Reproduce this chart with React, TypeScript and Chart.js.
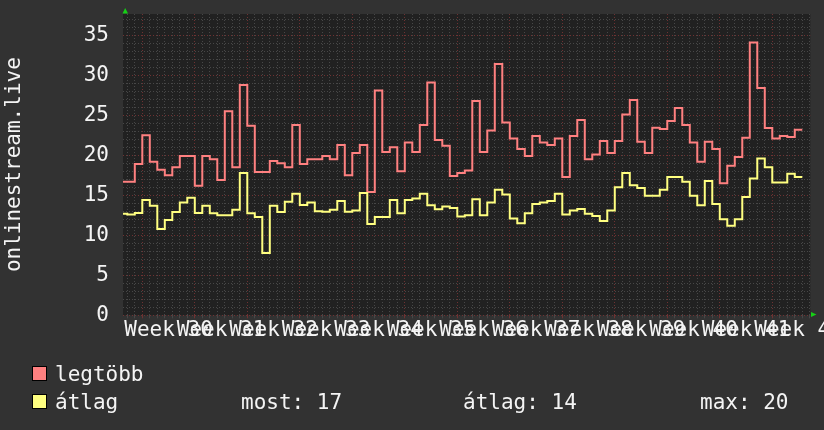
import React, { useEffect, useRef } from 'react';
import { Chart, registerables } from 'chart.js';

Chart.register(...registerables);

// ---- data ----
const weekLabels = [
  'Week 30', 'Week 31', 'Week 32', 'Week 33', 'Week 34', 'Week 35', 'Week 36',
  'Week 37', 'Week 38', 'Week 39', 'Week 40', 'Week 41', 'Week 42',
];

// daily maximum ("legtöbb")
const legtobb = [
  16.7, 16.7, 18.9, 22.5, 19.2, 18.2, 17.5, 18.5, 19.9, 19.9,
  16.2, 19.9, 19.5, 16.9, 25.5, 18.5, 28.8, 23.7, 17.9, 17.9,
  19.3, 19.0, 18.5, 23.8, 18.9, 19.5, 19.5, 19.9, 19.5, 21.3,
  17.5, 20.3, 21.3, 15.4, 28.1, 20.4, 21.0, 18.0, 21.6, 20.4,
  23.8, 29.1, 21.9, 21.2, 17.4, 17.8, 18.1, 26.8, 20.4, 23.1,
  31.4, 24.1, 22.1, 20.8, 19.9, 22.4, 21.6, 21.3, 22.1, 17.3,
  22.4, 24.4, 19.5, 20.1, 21.8, 20.3, 21.8, 25.1, 26.9, 21.7,
  20.3, 23.45, 23.3, 24.3, 25.9, 23.8, 21.6, 19.2, 21.7, 20.8,
  16.5, 18.7, 19.8, 22.2, 34.1, 28.4, 23.4, 22.1, 22.4, 22.3,
  23.2,
];

// daily average ("átlag")
const atlag = [
  12.7, 12.6, 12.8, 14.4, 13.7, 10.8, 11.9, 12.9, 14.1, 14.7,
  12.8, 13.7, 12.75, 12.5, 12.5, 13.2, 17.8, 12.75, 12.3, 7.8,
  13.7, 12.9, 14.2, 15.2, 13.8, 14.1, 13.0, 12.95, 13.2, 14.3,
  12.95, 13.1, 15.3, 11.4, 12.3, 12.3, 14.4, 12.75, 14.4, 14.6,
  15.2, 13.75, 13.25, 13.6, 13.4, 12.35, 12.5, 14.5, 12.5, 14.1,
  15.7, 15.1, 12.1, 11.5, 12.75, 13.9, 14.1, 14.3, 15.2, 12.6,
  13.1, 13.3, 12.7, 12.4, 11.8, 13.1, 16.0, 17.8, 16.25, 15.9,
  14.95, 14.95, 15.7, 17.3, 17.3, 16.7, 14.95, 13.75, 16.8, 13.9,
  12.0, 11.2, 12.0, 14.8, 17.1, 19.6, 18.5, 16.6, 16.6, 17.7,
  17.3,
];

const seriesNames = ['legtöbb', 'átlag'];
const statLabels = ['most: 17', 'átlag: 14', 'max: 20'];
const yTickStep = 5;
const FIRST_WEEK_DAY = 3; // day index where the first week boundary lies
const DAYS_PER_WEEK = 7;

// ---- styling / layout ----
const W = 824;
const H = 430;
const PLOT_LEFT = 123;
const PLOT_RIGHT = 810.3;
const PLOT_TOP = 14;
const PLOT_BOTTOM = 315.3;
const X_MIN = 0.427;
const X_MAX = 92.07;
const Y_MAX = 37.66;

const BG = '#323232';
const PLOT_BG = '#212121';
const GRID_MINOR = '#474747';
const GRID_MAJOR = '#6e3232';
const TEXT = '#f4f4f4';
const RED = '#ff8080';
const YELLOW = '#ffff80';
const ARROW = '#16d016';
const FONT_FAMILY = '"DejaVu Sans Mono", monospace';
const FONT_SIZE = 21;

const toPoints = (arr: number[]) => [
  ...arr.map((v, i) => ({ x: i, y: v })),
  { x: arr.length, y: arr[arr.length - 1] },
];

const labelIndex = (v: number) => {
  const k = Math.round((v - FIRST_WEEK_DAY - DAYS_PER_WEEK / 2) / DAYS_PER_WEEK);
  const c = FIRST_WEEK_DAY + DAYS_PER_WEEK / 2 + k * DAYS_PER_WEEK;
  if (Math.abs(c - v) < 1e-6 && k >= 0 && k < weekLabels.length) return k;
  return -1;
};

const bgPlugin = {
  id: 'rrdBackground',
  beforeDraw(chart: any) {
    const { ctx, chartArea } = chart;
    ctx.save();
    ctx.fillStyle = BG;
    ctx.fillRect(0, 0, chart.width, chart.height);
    ctx.fillStyle = PLOT_BG;
    ctx.fillRect(chartArea.left, chartArea.top, chartArea.right - chartArea.left, chartArea.bottom - chartArea.top);
    ctx.restore();
  },
  afterDraw(chart: any) {
    const { ctx, chartArea } = chart;
    ctx.save();
    // arrows
    ctx.fillStyle = ARROW;
    ctx.beginPath();
    ctx.moveTo(chartArea.left - 0.5, chartArea.top - 0.5);
    ctx.lineTo(chartArea.left + 5, chartArea.top - 0.5);
    ctx.lineTo(chartArea.left + 2.2, chartArea.top - 6);
    ctx.closePath();
    ctx.fill();
    ctx.beginPath();
    ctx.moveTo(chartArea.right + 0.7, chartArea.bottom - 3.3);
    ctx.lineTo(chartArea.right + 0.7, chartArea.bottom + 1.7);
    ctx.lineTo(chartArea.right + 6.2, chartArea.bottom - 0.8);
    ctx.closePath();
    ctx.fill();

    // legend
    ctx.font = `${FONT_SIZE}px ${FONT_FAMILY}`;
    ctx.textBaseline = 'alphabetic';
    ctx.textAlign = 'left';
    const rows = [
      { color: RED, y: 366, name: seriesNames[0] },
      { color: YELLOW, y: 394, name: seriesNames[1] },
    ];
    rows.forEach((r) => {
      ctx.fillStyle = r.color;
      ctx.fillRect(32, r.y, 15, 15);
      ctx.strokeStyle = '#000000';
      ctx.lineWidth = 1;
      ctx.strokeRect(32.5, r.y + 0.5, 14, 14);
      ctx.fillStyle = TEXT;
      ctx.fillText(r.name, 55, r.y + 15);
    });
    const statX = [241, 463, 700];
    statLabels.forEach((s, i) => ctx.fillText(s, statX[i], 394 + 15));
    ctx.restore();
  },
};

export default function App() {
  const ref = useRef<HTMLCanvasElement | null>(null);

  useEffect(() => {
    document.body.style.margin = '0';
    const canvas = ref.current;
    if (!canvas) return;
    const font = { family: FONT_FAMILY, size: FONT_SIZE, lineHeight: 1 };
    const chart = new Chart(canvas, {
      type: 'line',
      data: {
        datasets: [
          {
            label: seriesNames[0],
            data: toPoints(legtobb),
            borderColor: RED,
            borderWidth: 2,
            pointRadius: 0,
            stepped: true,
            fill: false,
            order: 1,
          },
          {
            label: seriesNames[1],
            data: toPoints(atlag),
            borderColor: YELLOW,
            borderWidth: 2,
            pointRadius: 0,
            stepped: true,
            fill: false,
            order: 0,
          },
        ],
      },
      options: {
        responsive: false,
        maintainAspectRatio: false,
        animation: false,
        events: [],
        layout: { padding: { left: 0, top: PLOT_TOP, right: W - PLOT_RIGHT, bottom: 0 } },
        plugins: { legend: { display: false }, tooltip: { enabled: false }, title: { display: false } },
        scales: {
          x: {
            type: 'linear',
            min: X_MIN,
            max: X_MAX,
            afterBuildTicks: (s: any) => {
              const t: { value: number }[] = [];
              for (let i = Math.ceil(X_MIN); i <= X_MAX; i++) t.push({ value: i });
              weekLabels.forEach((_, k) =>
                t.push({ value: FIRST_WEEK_DAY + DAYS_PER_WEEK / 2 + k * DAYS_PER_WEEK })
              );
              t.sort((a, b) => a.value - b.value);
              s.ticks = t;
            },
            afterFit: (s: any) => {
              s.height = H - PLOT_BOTTOM;
              s.paddingLeft = 0;
              s.paddingRight = 0;
            },
            ticks: {
              autoSkip: false,
              maxRotation: 0,
              minRotation: 0,
              padding: 0,
              color: TEXT,
              font: { family: FONT_FAMILY, size: FONT_SIZE, lineHeight: 1.2 },
              callback: (v: any) => {
                const k = labelIndex(Number(v));
                return k >= 0 ? weekLabels[k] : '';
              },
            },
            grid: {
              color: (c: any) => {
                const v = c.tick ? c.tick.value : 0;
                if (labelIndex(v) >= 0) return 'rgba(0,0,0,0)';
                return (v - FIRST_WEEK_DAY) % DAYS_PER_WEEK === 0 ? GRID_MAJOR : GRID_MINOR;
              },
              tickColor: (c: any) => {
                const v = c.tick ? c.tick.value : 0;
                if (labelIndex(v) >= 0) return 'rgba(0,0,0,0)';
                return (v - FIRST_WEEK_DAY) % DAYS_PER_WEEK === 0 ? GRID_MAJOR : GRID_MINOR;
              },
              lineWidth: 1,
              drawTicks: true,
              tickLength: 3,
            },
            border: { display: false, dash: [1, 2] },
          },
          y: {
            type: 'linear',
            min: 0,
            max: Y_MAX,
            afterBuildTicks: (s: any) => {
              const t: { value: number }[] = [];
              for (let v = 0; v <= Y_MAX; v++) t.push({ value: v });
              s.ticks = t;
            },
            afterFit: (s: any) => {
              s.width = PLOT_LEFT;
              s.paddingTop = 0;
              s.paddingBottom = 0;
            },
            ticks: {
              autoSkip: false,
              padding: 14,
              color: TEXT,
              font,
              callback: (v: any) => (Number(v) % yTickStep === 0 ? String(v) : ''),
            },
            grid: {
              color: (c: any) => (c.tick && c.tick.value % yTickStep === 0 ? GRID_MAJOR : GRID_MINOR),
              lineWidth: 1,
              drawTicks: false,
            },
            border: { display: false, dash: [1, 2] },
            title: {
              display: true,
              text: 'onlinestream.live',
              color: TEXT,
              font,
              padding: { top: 4, bottom: 0 },
            },
          },
        },
      },
      plugins: [bgPlugin],
    } as any);
    return () => chart.destroy();
  }, []);

  return (
    <div style={{ width: W, height: H, position: 'relative' }}>
      <canvas ref={ref} width={W} height={H} style={{ display: 'block', width: W, height: H }} />
    </div>
  );
}
